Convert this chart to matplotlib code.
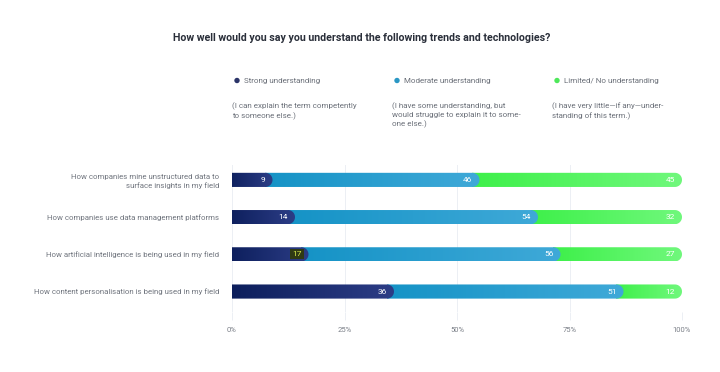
import matplotlib
matplotlib.use("Agg")
import matplotlib.pyplot as plt
import numpy as np
from matplotlib.path import Path
from matplotlib.patches import PathPatch, Ellipse
from matplotlib.colors import LinearSegmentedColormap

plt.rcParams['font.family'] = ['Roboto', 'DejaVu Sans']

categories = [
    "How companies mine unstructured data to\nsurface insights in my field",
    "How companies use data management platforms",
    "How artificial intelligence is being used in my field",
    "How content personalisation is being used in my field",
]
strong = [9, 14, 17, 36]
moderate = [46, 54, 56, 51]
limited = [45, 32, 27, 12]
series_names = ["Strong understanding", "Moderate understanding", "Limited/ No understanding"]
series_notes = [
    "(I can explain the term competently\nto someone else.)",
    "(I have some understanding, but\nwould struggle to explain it to some-\none else.)",
    "(I have very little\u2014if any\u2014under-\nstanding of this term.)",
]
xticks = [0, 25, 50, 75, 100]
xticklabels = ["0%", "25%", "50%", "75%", "100%"]

grad = [("#0b1d5a", "#2c3d86"), ("#1593c6", "#3fa9d8"), ("#3ef04a", "#70f87c")]
dot_colors = ["#2b3468", "#2a97c4", "#4ee85a"]

W, H = 720, 372
fig = plt.figure(figsize=(W / 100, H / 100), dpi=100)
fig.patch.set_facecolor("white")
ax_l, ax_r, ax_t, ax_b = 232, 682, 165, 312
ax = fig.add_axes([ax_l / W, 1 - ax_b / H, (ax_r - ax_l) / W, (ax_b - ax_t) / H])
ax.set_xlim(0, 100)
ax.set_ylim(3.55, -0.4)
for s in ax.spines.values():
    s.set_visible(False)

ax.set_xticks(xticks)
ax.set_xticklabels(xticklabels, fontsize=5.5, color="#7a7f87")
ax.tick_params(axis="x", length=6, color="#eceff4", pad=5, width=0.7)
ax.set_yticks(range(len(categories)))
ax.set_yticklabels(categories, fontsize=5.7, color="#70757e", linespacing=1.3)
ax.tick_params(axis="y", length=0, pad=9)
for x in xticks:
    ax.axvline(x, color="#eceff4", lw=0.7, zorder=0)

# data units per pixel
px_x = 100 / (ax_r - ax_l)
px_y = 3.95 / (ax_b - ax_t)
bar_h = 0.38
r_px = bar_h / 2 / px_y
rx = r_px * px_x

def rounded_path(x0, x1, yc):
    h = bar_h / 2
    xs = max(x0, x1 - rx)
    verts = [(x0, yc - h), (xs, yc - h)]
    codes = [Path.MOVETO, Path.LINETO]
    for t in np.linspace(-np.pi / 2, np.pi / 2, 25):
        verts.append((xs + rx * np.cos(t), yc + h * np.sin(t)))
        codes.append(Path.LINETO)
    verts += [(x0, yc + h), (x0, yc - h)]
    codes += [Path.LINETO, Path.CLOSEPOLY]
    return Path(verts, codes)

gradimg = np.linspace(0, 1, 256).reshape(1, -1)
for i in range(len(categories)):
    c1 = strong[i]
    c2 = strong[i] + moderate[i]
    c3 = 100
    for x0, x1, (ca, cb), gs in [(0, c3, grad[2], c2), (0, c2, grad[1], c1), (0, c1, grad[0], 0)]:
        path = rounded_path(x0, x1, i)
        patch = PathPatch(path, facecolor="none", edgecolor="none", transform=ax.transData)
        ax.add_patch(patch)
        cmap = LinearSegmentedColormap.from_list("g", [ca, cb])
        im = ax.imshow(gradimg, cmap=cmap, aspect="auto",
                       extent=[gs - rx, x1, i + bar_h / 2, i - bar_h / 2],
                       zorder=2, interpolation="bilinear")
        im.set_clip_path(patch)
    ax.set_xlim(0, 100)
    ax.set_ylim(3.55, -0.4)
    for val, end in [(strong[i], c1), (moderate[i], c2), (limited[i], c3)]:
        kw = {}
        col = "white"
        if i == 2 and val == strong[i]:
            kw = dict(bbox=dict(boxstyle="square,pad=0.25", fc="#2f3a14", ec="none"))
            col = "#d8e84a"
        ax.text(end - 7 * px_x, i, str(val), ha="right", va="center",
                fontsize=6, color=col, zorder=5, **kw)

# title
fig.text(362 / W, 1 - 38 / H, "How well would you say you understand the following trends and technologies?",
         ha="center", va="center", fontsize=7.7, fontweight="bold", color="#2a2f3a")

# legend
for k, x in enumerate([237, 397, 557]):
    e = Ellipse((x / W, 1 - 80.5 / H), 5.4 / W, 5.4 / H, transform=fig.transFigure,
                facecolor=dot_colors[k], edgecolor="none")
    fig.patches.append(e)
    fig.text((x + 7) / W, 1 - 80.5 / H, series_names[k], ha="left", va="center",
             fontsize=5.8, color="#6b7079")
    fig.text((x - 5) / W, 1 - 102 / H, series_notes[k], ha="left", va="top",
             fontsize=5.8, color="#6b7079", linespacing=1.45)

fig.savefig("out.png", dpi=100, facecolor="white")
